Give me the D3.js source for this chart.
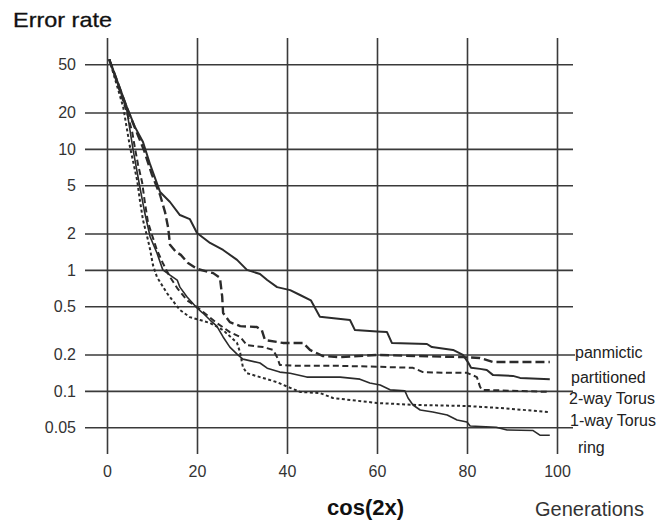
<!DOCTYPE html>
<html>
<head>
<meta charset="utf-8">
<script src="https://cdn.jsdelivr.net/npm/d3@7"></script>
<style>
  html, body { margin: 0; padding: 0; background: #fff; }
  svg { display: block; font-family: "Liberation Sans", Arial, Helvetica, sans-serif; }
</style>
</head>
<body>
<svg id="chart" width="663" height="527"></svg>
<script>
// Error rate (log scale) against generations for five population structures, cos(2x)
const xTicks = [0, 20, 40, 60, 80, 100];
const yTicks = [50, 20, 10, 5, 2, 1, 0.5, 0.2, 0.1, 0.05];
const seriesNames = ["panmictic", "partitioned", "2-way Torus", "1-way Torus", "ring"];

const panmicticGen = [0.5, 4.4, 6.4, 8.2, 10, 11.8, 12.9, 13.6, 14, 15.3, 16.4, 18, 20, 23.6, 25.1, 25.6, 25.8, 27.3, 29.6, 33.3, 34.4, 35.1, 39.1, 43.6, 45.1, 48, 51.8, 60, 79.1, 82.9, 85.8, 98.4];
const panmicticErr = [55, 21.8, 14.3, 9.8, 6.1, 4.16, 3.0, 2.22, 1.61, 1.41, 1.33, 1.14, 1.02, 0.94, 0.86, 0.6, 0.44, 0.37, 0.343, 0.337, 0.318, 0.263, 0.249, 0.249, 0.218, 0.194, 0.19, 0.198, 0.19, 0.187, 0.173, 0.173];

const partitionedGen = [0.5, 4.4, 6.2, 8, 9.6, 11.8, 14, 16.2, 18.4, 20, 22.9, 25.8, 28.9, 31.1, 34, 35.6, 37.8, 40.7, 42.9, 45.3, 47.3, 54, 55.1, 60, 62.2, 63.3, 71.1, 72.2, 76.9, 79.1, 80.2, 80.9, 82.9, 84.4, 85.8, 90.2, 91.8, 98.4];
const partitionedErr = [55, 22.2, 15.2, 11.4, 7.4, 4.4, 3.64, 2.84, 2.63, 2.02, 1.67, 1.46, 1.21, 1.0, 0.925, 0.824, 0.72, 0.68, 0.62, 0.56, 0.41, 0.385, 0.318, 0.31, 0.307, 0.249, 0.244, 0.23, 0.218, 0.198, 0.173, 0.155, 0.152, 0.149, 0.135, 0.133, 0.128, 0.125];

const torus2Gen = [0.5, 2.9, 4.4, 5.6, 6.2, 6.9, 7.8, 8.4, 9.1, 10, 11.1, 12.4, 14, 15.6, 17.8, 20, 22.2, 24.4, 27.3, 29.6, 31.1, 34.7, 36.9, 37.8, 38.4, 42.2, 51.8, 60.7, 68, 70.2, 75.6, 80, 82.2, 82.9, 83.3, 98.4];
const torus2Err = [55, 29.5, 20.2, 13.8, 10.2, 7.4, 5.3, 3.64, 2.48, 1.94, 1.46, 1.14, 0.873, 0.708, 0.56, 0.493, 0.424, 0.364, 0.306, 0.279, 0.239, 0.23, 0.218, 0.19, 0.164, 0.161, 0.161, 0.158, 0.155, 0.143, 0.141, 0.141, 0.13, 0.108, 0.102, 0.098];

const torus1Gen = [0.5, 3.6, 5.1, 6.7, 7.3, 8, 9.1, 9.6, 10.2, 11.1, 13.3, 16.2, 18.4, 20.7, 22.9, 25.8, 28.9, 29.6, 30.2, 31.1, 34, 37.8, 40.7, 42.9, 47.3, 50.2, 60, 68.9, 80, 87.3, 98.4];
const torus1Err = [55, 22.2, 10.4, 5.5, 3.78, 2.58, 1.77, 1.46, 1.1, 0.873, 0.644, 0.466, 0.407, 0.385, 0.364, 0.318, 0.249, 0.206, 0.157, 0.14, 0.13, 0.118, 0.106, 0.098, 0.096, 0.0873, 0.0794, 0.0764, 0.075, 0.0722, 0.0668];

const ringGen = [0.5, 4.4, 5.8, 7.3, 8.4, 9.6, 11.1, 12.4, 14, 15.6, 16.2, 17.8, 20, 21.3, 22.9, 24.4, 25.8, 27.3, 28.9, 30.2, 34, 35.6, 38.4, 40.7, 44.4, 51.8, 56.2, 58.4, 60.7, 62.9, 66.2, 66.9, 68, 69.6, 72.4, 75.6, 77.8, 80, 80.7, 86.5, 88.9, 94.7, 96.2, 98.4];
const ringErr = [55, 20.9, 9.8, 4.84, 2.95, 1.87, 1.38, 1.0, 0.906, 0.824, 0.72, 0.597, 0.484, 0.44, 0.385, 0.343, 0.279, 0.23, 0.201, 0.183, 0.17, 0.154, 0.143, 0.14, 0.13, 0.13, 0.125, 0.116, 0.112, 0.102, 0.1, 0.0873, 0.0764, 0.0695, 0.0668, 0.0632, 0.0574, 0.0553, 0.0513, 0.05, 0.0475, 0.047, 0.0431, 0.043];

const series = [
  { name: seriesNames[0], gen: panmicticGen, err: panmicticErr, width: 2.4, dash: "9,4" },
  { name: seriesNames[1], gen: partitionedGen, err: partitionedErr, width: 2.0, dash: null },
  { name: seriesNames[2], gen: torus2Gen, err: torus2Err, width: 2.0, dash: "6,3.5" },
  { name: seriesNames[3], gen: torus1Gen, err: torus1Err, width: 2.0, dash: "3,2.5" },
  { name: seriesNames[4], gen: ringGen, err: ringErr, width: 1.6, dash: null }
];

const svg = d3.select("#chart");
const ink = "#2b2b2b";
const gridInk = "#3a3a3a";

const x = d3.scaleLinear().domain([0, 100]).range([107, 557]);
const y = d3.scaleLog().domain([50, 0.05]).range([64.3, 427.3]);

const gridLeft = 85, gridRight = 573, gridTop = 38, gridBottom = 454;

// horizontal grid with left labels
const yAxis = svg.append("g")
  .attr("transform", `translate(${gridLeft},0)`)
  .call(d3.axisLeft(y).tickValues(yTicks).tickFormat(d3.format("~g"))
    .tickSize(-(gridRight - gridLeft)).tickPadding(9));
yAxis.select(".domain").remove();
yAxis.selectAll(".tick line").attr("stroke", gridInk).attr("stroke-width", 1.6);
yAxis.selectAll(".tick").filter(d => d === 0.2).select("line").attr("x2", gridRight - gridLeft + 2);
yAxis.selectAll(".tick text").attr("font-size", 16).attr("fill", "#333")
  .attr("font-family", "\"Liberation Sans\", Arial, sans-serif");

// vertical grid with bottom labels
const xAxis = svg.append("g")
  .attr("transform", `translate(0,${gridBottom})`)
  .call(d3.axisBottom(x).tickValues(xTicks).tickFormat(d3.format("d"))
    .tickSize(-(gridBottom - gridTop)).tickPadding(12));
xAxis.select(".domain").remove();
xAxis.selectAll(".tick line").attr("stroke", gridInk).attr("stroke-width", 1.6);
xAxis.selectAll(".tick text").attr("font-size", 16).attr("fill", "#333")
  .attr("font-family", "\"Liberation Sans\", Arial, sans-serif");

// curves
const line = d3.line()
  .x(d => x(d[0]))
  .y(d => y(d[1]));

svg.append("g").selectAll("path")
  .data(series)
  .join("path")
  .attr("d", s => line(s.gen.map((g, i) => [g, s.err[i]])))
  .attr("fill", "none")
  .attr("stroke", ink)
  .attr("stroke-width", s => s.width)
  .attr("stroke-dasharray", s => s.dash)
  .attr("stroke-linejoin", "round");

// series labels at the right end
const labelPos = [
  { x: 575, y: 352 },
  { x: 571, y: 377 },
  { x: 569, y: 398 },
  { x: 570, y: 420 },
  { x: 578, y: 447 }
];
svg.append("g").selectAll("text")
  .data(seriesNames)
  .join("text")
  .attr("x", (d, i) => labelPos[i].x)
  .attr("y", (d, i) => labelPos[i].y)
  .attr("dy", "0.35em")
  .attr("font-size", 16)
  .attr("fill", "#222")
  .text(d => d);

// titles
svg.append("text")
  .attr("x", 13).attr("y", 27)
  .attr("font-size", 21)
  .attr("textLength", 99)
  .attr("lengthAdjust", "spacingAndGlyphs")
  .attr("fill", "#111")
  .attr("stroke", "#111").attr("stroke-width", 0.3)
  .text("Error rate");

svg.append("text")
  .attr("x", 327).attr("y", 515)
  .attr("font-size", 22)
  .attr("font-weight", "bold")
  .attr("fill", "#111")
  .text("cos(2x)");

svg.append("text")
  .attr("x", 535).attr("y", 516)
  .attr("font-size", 20)
  .attr("fill", "#333")
  .text("Generations");
</script>
</body>
</html>
